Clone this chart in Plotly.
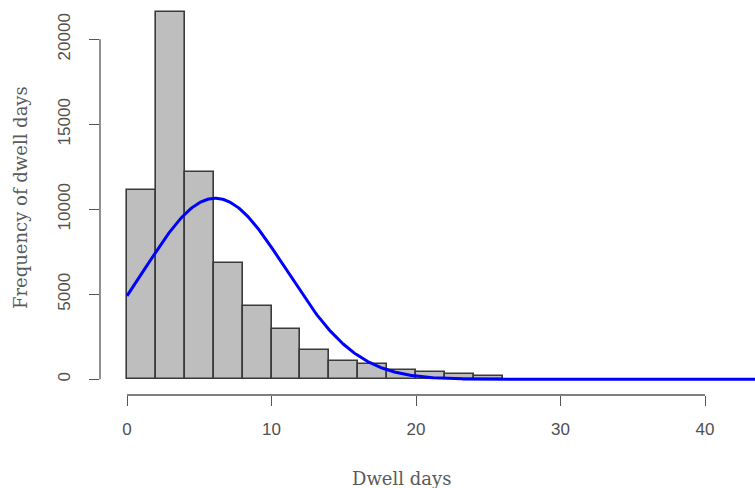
import numpy as np
import plotly.graph_objects as go

# Histogram of dwell days (bin width 2 days)
bin_edges = [0, 2, 4, 6, 8, 10, 12, 14, 16, 18, 20, 22, 24, 26]
counts = [11130, 21620, 12210, 6820, 4330, 2940, 1720, 1090, 880, 520, 420, 300, 170]

# Fitted normal curve parameters (scaled to counts per bin)
fit_mean = 6.1
fit_sd = 4.9
fit_n = 65400
curve_from, curve_to = 0, 43.5

x_ticks = [0, 10, 20, 30, 40]
y_ticks = [0, 5000, 10000, 15000, 20000]

mids = [(a + b) / 2 for a, b in zip(bin_edges[:-1], bin_edges[1:])]
widths = [b - a for a, b in zip(bin_edges[:-1], bin_edges[1:])]
binw = widths[0]

xc = np.linspace(curve_from, curve_to, 600)
yc = fit_n * binw * np.exp(-((xc - fit_mean) ** 2) / (2 * fit_sd ** 2)) / (fit_sd * np.sqrt(2 * np.pi))

axis_col = "#555555"
tick_font = dict(family="Liberation Sans, Arial, sans-serif", size=17, color="#505050")
title_font = dict(family="DejaVu Serif, Liberation Serif, serif", size=18, color="#5a5a5a")

fig = go.Figure()
fig.add_trace(go.Bar(
    x=mids, y=counts, width=widths,
    marker=dict(color="#BEBEBE", line=dict(color="#3a3a3a", width=1.6)),
    hoverinfo="x+y", showlegend=False,
))
fig.add_trace(go.Scatter(
    x=xc, y=yc, mode="lines",
    line=dict(color="#0000FF", width=3),
    showlegend=False,
))

fig.update_layout(
    width=755, height=488,
    margin=dict(l=100, r=0, t=0, b=93),
    paper_bgcolor="white", plot_bgcolor="white",
    bargap=0,
    xaxis=dict(
        range=[-1.87, 43.46], showgrid=False, zeroline=False, showline=False,
        tickvals=x_ticks, ticktext=[str(v) for v in x_ticks],
        ticks="outside", ticklen=10, tickwidth=1.3, tickcolor=axis_col,
        tickfont=tick_font, ticklabelstandoff=9,
    ),
    yaxis=dict(
        range=[-924, 22312], showgrid=False, zeroline=False, showline=False,
        tickvals=y_ticks, ticktext=[str(v) for v in y_ticks],
        ticks="outside", ticklen=10, tickwidth=1.3, tickcolor=axis_col,
        tickfont=tick_font, tickangle=-90, ticklabelstandoff=12,
    ),
    shapes=[
        dict(type="line", xref="x", yref="paper", x0=x_ticks[0], x1=x_ticks[-1], y0=0, y1=0,
             line=dict(color=axis_col, width=1.3)),
        dict(type="line", xref="paper", yref="y", x0=0, x1=0, y0=y_ticks[0], y1=y_ticks[-1],
             line=dict(color=axis_col, width=1.3)),
    ],
    annotations=[
        dict(text="Dwell days", xref="paper", yref="paper", x=(401 - 100) / 655, y=-(478 - 395) / 395,
             xanchor="center", yanchor="middle", showarrow=False, font=title_font),
        dict(text="Frequency of dwell days", xref="paper", yref="paper", x=-(100 - 20) / 655, y=(395 - 198) / 395,
             xanchor="center", yanchor="middle", showarrow=False, textangle=-90, font=title_font),
    ],
)

fig.write_html("out.html")
